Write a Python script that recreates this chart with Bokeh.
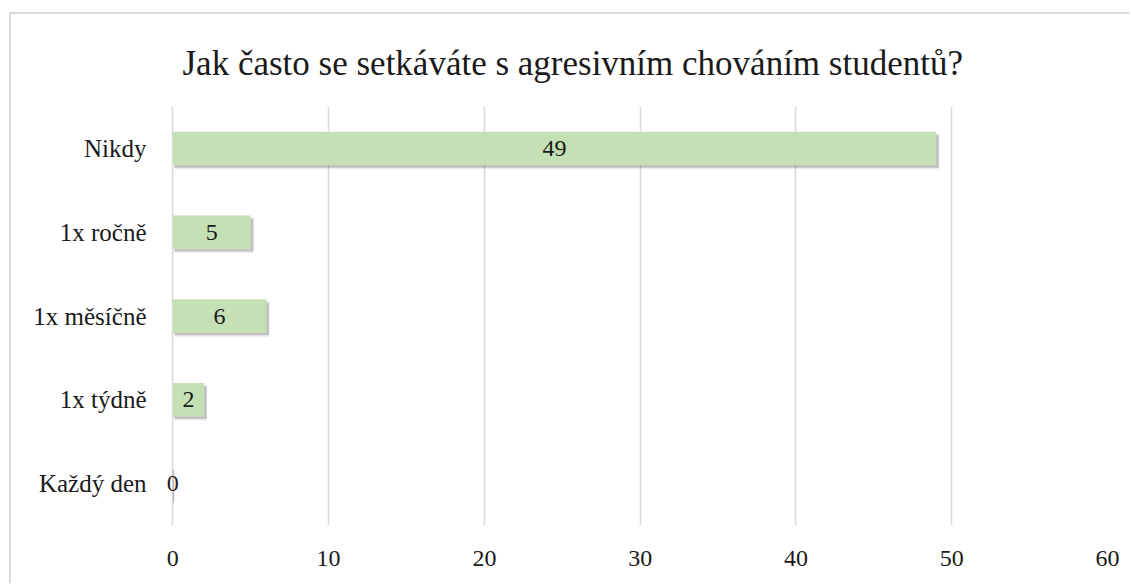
from bokeh.plotting import figure
from bokeh.models import ColumnDataSource, FactorRange, Range1d, FixedTicker, LabelSet
from bokeh.transform import dodge
from bokeh.embed import file_html
from bokeh.resources import INLINE

# Data (top to bottom in the reference)
categories = ["Nikdy", "1x ročně", "1x měsíčně", "1x týdně", "Každý den"]
counts = [49, 5, 6, 2, 0]
x_ticks = [0, 10, 20, 30, 40, 50, 60]
title_text = "Jak často se setkáváte s agresivním chováním studentů?"

FONT = "Liberation Serif"
TXT = "#1a1a1a"

factors = list(reversed(categories))
src = ColumnDataSource(dict(
    cat=categories,
    val=counts,
    mid=[v / 2 for v in counts],
    lbl=[str(v) for v in counts],
    shadow_right=[v + 0.18 if v > 0 else 0 for v in counts],
))

p = figure(
    width=1120, height=571,
    y_range=FactorRange(*factors, range_padding=0),
    x_range=Range1d(-0.6, 60),
    output_backend="svg", toolbar_location=None,
    min_border_left=152, min_border_right=24, min_border_top=92, min_border_bottom=60,
)
p.margin = (12, 0, 0, 9)
p.styles = {"border-left": "2px solid #d9d9d9", "border-top": "2px solid #d9d9d9"}
p.outline_line_color = None
p.background_fill_color = "white"
p.border_fill_color = "white"

# title
p.title.text = title_text
p.title.align = "left"
p.title.offset = 19
p.title.vertical_align = "top"
p.title.text_font = FONT
p.title.text_font_size = "35px"
p.title.text_font_style = "normal"
p.title.text_color = TXT
p.title.standoff = 44

# shadows
p.hbar(y=dodge("cat", -0.05, range=p.y_range), left=0.12, right="shadow_right", height=0.4,
       source=src, fill_color="#000000", fill_alpha=0.07, line_color=None)
p.hbar(y=dodge("cat", -0.03, range=p.y_range), left=0.08, right="shadow_right", height=0.4,
       source=src, fill_color="#000000", fill_alpha=0.18, line_color=None)
# bars
p.hbar(y="cat", left=0, right="val", height=0.4, source=src,
       fill_color="#c5e0b4", line_color=None)

# value labels
p.add_layout(LabelSet(x="mid", y="cat", text="lbl", source=src, text_align="center",
                      text_baseline="middle", text_font=FONT, text_font_size="24px",
                      text_color=TXT))

# axes
p.xaxis.ticker = FixedTicker(ticks=x_ticks)
for ax in (p.xaxis, p.yaxis):
    ax.axis_line_color = None
    ax.major_tick_line_color = None
    ax.minor_tick_line_color = None
    ax.major_tick_out = 0
    ax.major_tick_in = 0
    ax.major_label_text_font = FONT
    ax.major_label_text_color = TXT
p.xaxis.major_label_text_font_size = "24px"
p.yaxis.major_label_text_font_size = "25px"
p.xaxis.major_label_standoff = 25
p.yaxis.major_label_standoff = 17

p.ygrid.grid_line_color = None
p.xgrid.grid_line_color = "#d9d9d9"
p.xgrid.grid_line_width = 1.5

open("out.html", "w").write(file_html(p, INLINE))
